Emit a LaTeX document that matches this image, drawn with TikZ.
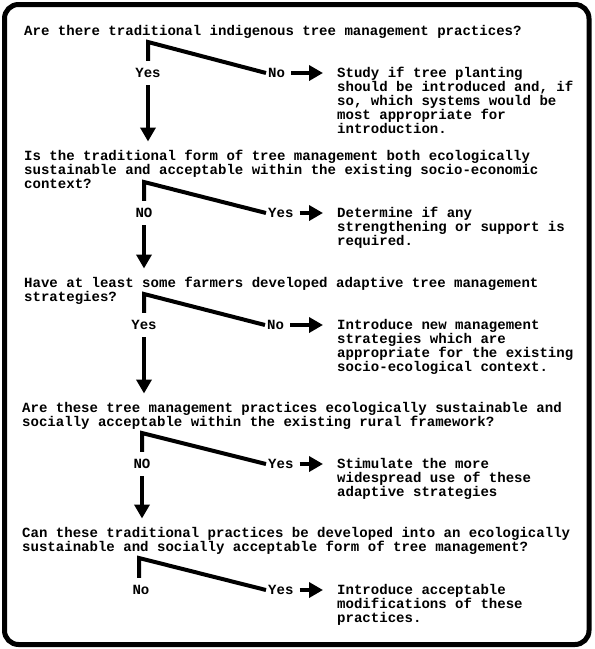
\documentclass[tikz,border=0pt]{standalone}
\usepackage{fontspec}
\setmonofont{Liberation Mono}
\usetikzlibrary{arrows.meta}
\newcommand\tstrut{\rule{0pt}{11pt}}
\begin{document}
\begin{tikzpicture}[x=1pt,y=-1pt,
  txt/.style={font=\ttfamily\bfseries\fontsize{14.05}{14}\selectfont, inner sep=0pt, align=left, anchor=north west},
  lab/.style={font=\ttfamily\bfseries\fontsize{14.05}{14}\selectfont, inner xsep=2pt, inner ysep=7.5pt, text height=9pt, text depth=0pt},
  branch/.style={line width=4pt, line join=miter},
  arr/.style={line width=4pt, -{Triangle[length=14pt,width=15pt]}},
  downarr/.style={arr, shorten >=8pt},
  sidearr/.style={arr, shorten <=4pt, shorten >=14pt},
  frame/.style={line width=5pt, rounded corners=14pt}
]
\useasboundingbox (0,0) rectangle (595,649);
\draw[frame] (4.5,4.5) rectangle (589,644.5);

% Block 1
\node[txt] (q1) at (24,24.5) {\tstrut Are there traditional indigenous tree management practices?};
\coordinate (c1) at (148,42);
\node[lab] (y1) at (148,73) {Yes};
\node[lab, anchor=west] (n1) at (266,73) {No};
\node[txt] (a1) at (337,66.5) {\tstrut Study if tree planting\\should be introduced and, if\\so, which systems would be\\most appropriate for\\introduction.};
\draw[branch] (y1.north) -- (c1) -- (n1.west);
\draw[sidearr] (n1.east) -- (n1.east -| a1.west);

% Block 2
\node[txt] (q2) at (24,149.5) {\tstrut Is the traditional form of tree management both ecologically\\sustainable and acceptable within the existing socio-economic\\context?};
\draw[downarr] (y1.south) -- (y1.south |- q2.north);
\coordinate (c2) at (144,182);
\node[lab] (y2) at (144,213) {NO};
\node[lab, anchor=west] (n2) at (266,213) {Yes};
\node[txt] (a2) at (337,206.5) {\tstrut Determine if any\\strengthening or support is\\required.};
\draw[branch] (y2.north) -- (c2) -- (n2.west);
\draw[sidearr] (n2.east) -- (n2.east -| a2.west);

% Block 3
\node[txt] (q3) at (24,276.5) {\tstrut Have at least some farmers developed adaptive tree management\\strategies?};
\draw[downarr] (y2.south) -- (y2.south |- q3.north);
\coordinate (c3) at (144,294);
\node[lab] (y3) at (144,325) {Yes};
\node[lab, anchor=west] (n3) at (265,325) {No};
\node[txt] (a3) at (337,318.5) {\tstrut Introduce new management\\strategies which are\\appropriate for the existing\\socio-ecological context.};
\draw[branch] (y3.north) -- (c3) -- (n3.west);
\draw[sidearr] (n3.east) -- (n3.east -| a3.west);

% Block 4
\node[txt] (q4) at (22,401.5) {\tstrut Are these tree management practices ecologically sustainable and\\socially acceptable within the existing rural framework?};
\draw[downarr] (y3.south) -- (y3.south |- q4.north);
\coordinate (c4) at (142,433);
\node[lab] (y4) at (142,464) {NO};
\node[lab, anchor=west] (n4) at (266,464) {Yes};
\node[txt] (a4) at (337,457.5) {\tstrut Stimulate the more\\widespread use of these\\adaptive strategies};
\draw[branch] (y4.north) -- (c4) -- (n4.west);
\draw[sidearr] (n4.east) -- (n4.east -| a4.west);

% Block 5
\node[txt] (q5) at (22,526.5) {\tstrut Can these traditional practices be developed into an ecologically\\sustainable and socially acceptable form of tree management?};
\draw[downarr] (y4.south) -- (y4.south |- q5.north);
\coordinate (c5) at (139,558);
\node[lab] (y5) at (141,590) {No};
\node[lab, anchor=west] (n5) at (266,590) {Yes};
\node[txt] (a5) at (337,583.5) {\tstrut Introduce acceptable\\modifications of these\\practices.};
\draw[branch] (c5 |- y5.north) -- (c5) -- (n5.west);
\draw[sidearr] (n5.east) -- (n5.east -| a5.west);
\end{tikzpicture}
\end{document}
